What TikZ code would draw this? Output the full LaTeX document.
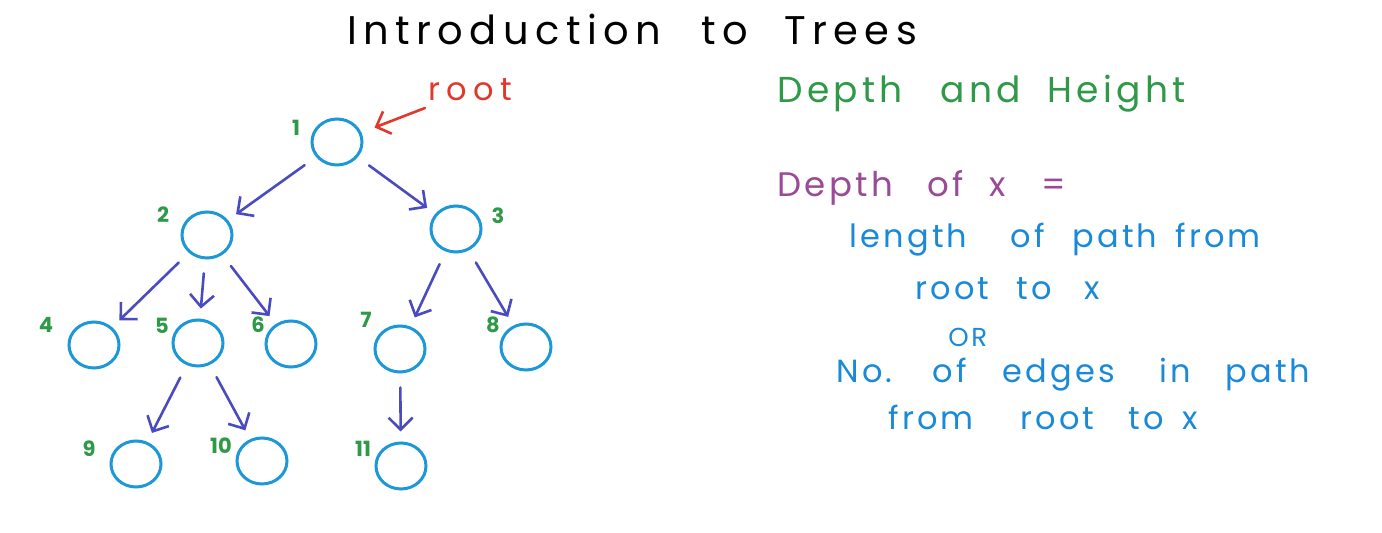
\documentclass[tikz,border=0pt]{standalone}
\usepackage{fontspec}
\usetikzlibrary{arrows.meta,shapes.geometric}
\newfontfamily\handtitle[LetterSpace=16]{Poppins}
\newfontfamily\handhead[LetterSpace=12]{Poppins}
\newfontfamily\handtext[LetterSpace=10]{Poppins}
\newfontfamily\handroot[LetterSpace=20]{Poppins}
\newfontfamily\handnum{Poppins}
\newcommand\hw[2]{\makebox[\dimexpr #1pt/2\relax][l]{#2}}
\definecolor{treeblue}{HTML}{1C97D8}
\definecolor{edgeblue}{HTML}{4B4BC0}
\definecolor{numgreen}{HTML}{2E9A48}
\definecolor{rootred}{HTML}{E0382A}
\definecolor{deppurple}{HTML}{9A4A96}
\definecolor{textblue}{HTML}{1A8AD8}
\tikzset{
  tnode/.style={draw=treeblue, line width=1.5pt, ellipse, minimum width=25pt, minimum height=23pt, inner sep=0pt},
  tnum/.style={text=numgreen, font=\handnum\fontsize{10.5}{12}\selectfont\bfseries, inner sep=0pt},
  barb/.style={-{Straight Barb[length=6pt,width=12pt,line width=1.3pt]}},
  tedge/.style={draw=edgeblue, line width=1.3pt, line cap=round, barb, shorten <=7pt, shorten >=5pt},
  htext/.style={anchor=base west, inner sep=0pt},
}
\begin{document}
\begin{tikzpicture}[x=0.5pt,y=-0.5pt]
\useasboundingbox[fill=white] (0,0) rectangle (1382,533);
% title
\node[htext] (title) at (347,45) {\handtitle\fontsize{20}{24}\selectfont \hw{354}{Introduction}\hw{83}{to}Trees};
% tree nodes
\node[tnode] (n1) at (337,142) {};
\node[tnode] (n2) at (207,235) {};
\node[tnode] (n3) at (456,229) {};
\node[tnode] (n4) at (94,345) {};
\node[tnode] (n5) at (198,343) {};
\node[tnode] (n6) at (291,344) {};
\node[tnode] (n7) at (400,349) {};
\node[tnode] (n8) at (526,347) {};
\node[tnode] (n9) at (136,464) {};
\node[tnode] (n10) at (262,461) {};
\node[tnode] (n11) at (401,466) {};
% labels
\node[tnum] (l1) at (296,128) {1};
\node[tnum] (l2) at (163,215) {2};
\node[tnum] (l3) at (498,216) {3};
\node[tnum] (l4) at (46,325) {4};
\node[tnum] (l5) at (162,326) {5};
\node[tnum] (l6) at (258,325) {6};
\node[tnum] (l7) at (366,320) {7};
\node[tnum] (l8) at (493,325) {8};
\node[tnum] (l9) at (89,449) {9};
\node[tnum] (l10) at (221,446) {10};
\node[tnum] (l11) at (363,449) {11};
% edges
\draw[tedge] (n1) -- (n2);
\draw[tedge] (n1) -- (n3);
\draw[tedge] (n2) -- (n4);
\draw[tedge] (n2) -- (n5);
\draw[tedge] (n2) -- (n6);
\draw[tedge] (n3) -- (n7);
\draw[tedge] (n3) -- (n8);
\draw[tedge] (n5) -- (n9);
\draw[tedge] (n5) -- (n10);
\draw[tedge] (n7) -- (n11);
% root label
\node[htext, text=rootred] (root) at (428,101) {\handroot\fontsize{16}{19}\selectfont root};
\coordinate (roottail) at (425,108);
\draw[draw=rootred, line width=1.3pt, line cap=round, barb, shorten >=7pt] (roottail) -- (n1);
% right text
\node[htext, text=numgreen] (dh) at (777,103) {\handhead\fontsize{18}{22}\selectfont \hw{163}{Depth}\hw{107}{and}Height};
\node[htext, text=deppurple] (dx) at (777,197) {\handtext\fontsize{17}{20}\selectfont \hw{150}{Depth}\hw{62}{of}\hw{52}{x}=};
\node[htext, text=textblue] (t1) at (849,248) {\handtext\fontsize{16}{19}\selectfont \hw{161}{length}\hw{62}{of}\hw{103}{path}from};
\node[htext, text=textblue] (t2) at (915,300) {\handtext\fontsize{16}{19}\selectfont \hw{101}{root}\hw{68}{to}x};
\node[htext, text=textblue] (t3) at (948,347) {\handtext\fontsize{13}{16}\selectfont OR};
\node[htext, text=textblue] (t4) at (836,383) {\handtext\fontsize{16}{19}\selectfont \hw{96}{No.}\hw{70}{of}\hw{157}{edges}\hw{66}{in}path};
\node[htext, text=textblue] (t5) at (888,430) {\handtext\fontsize{16}{19}\selectfont \hw{132}{from}\hw{108}{root}\hw{54}{to}x};
\end{tikzpicture}
\end{document}
